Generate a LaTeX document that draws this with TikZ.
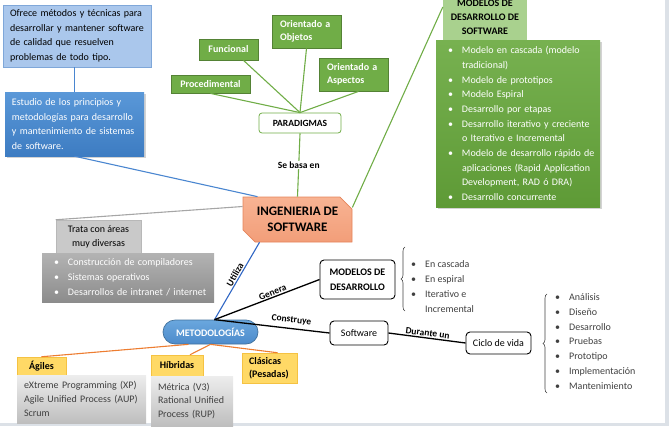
\documentclass[tikz,border=0pt]{standalone}
\usepackage{fontspec}
\setmainfont{Carlito}
\usetikzlibrary{positioning,shapes.misc,decorations.pathreplacing,shadows,calc}
\definecolor{bluepale}{HTML}{AAC7EC}
\definecolor{blueedge}{HTML}{7FA7D9}
\definecolor{bluetop}{HTML}{5A98D8}
\definecolor{bluebot}{HTML}{3D7CC2}
\definecolor{bluelink}{HTML}{4A86D0}
\definecolor{bluedark}{HTML}{2F66C4}
\definecolor{salmontop}{HTML}{F8B393}
\definecolor{salmonbot}{HTML}{F29E79}
\definecolor{salmonedge}{HTML}{E6845A}
\definecolor{leaf}{HTML}{70AD47}
\definecolor{leafdark}{HTML}{548235}
\definecolor{leafbot}{HTML}{5E9A36}
\definecolor{leafpale}{HTML}{A9D18E}
\definecolor{ashpale}{HTML}{C9C9C9}
\definecolor{ashedge}{HTML}{B8B8B8}
\definecolor{ashtop}{HTML}{B3B3B3}
\definecolor{ashbot}{HTML}{8C8C8C}
\definecolor{ashlink}{HTML}{A6A6A6}
\definecolor{fogtop}{HTML}{EDEDED}
\definecolor{fogbot}{HTML}{BEBEBE}
\definecolor{gold}{HTML}{FFD966}
\definecolor{goldedge}{HTML}{F5C242}
\definecolor{tang}{HTML}{ED7D31}
\definecolor{skytop}{HTML}{6AA7DE}
\definecolor{skybot}{HTML}{4D8BCB}
\definecolor{skyedge}{HTML}{41719C}
\definecolor{txtgray}{HTML}{404040}
\definecolor{frame}{HTML}{DCE1E7}
\newcommand{\bul}{\makebox[14pt][l]{\textbullet}}
\newcommand{\ind}{\hspace*{14pt}}
\tikzset{
  lmargin/.style={execute at begin node={\leftskip=#1\hyphenpenalty=10000}},
  note/.style={inner sep=0pt,align=left,lmargin=7pt,font=\fontsize{10}{14.5}\selectfont},
  paleblue/.style={note,fill=bluepale,draw=blueedge,line width=.6pt},
  deepblue/.style={note,top color=bluetop,bottom color=bluebot,text=white,
    drop shadow={opacity=.35,shadow xshift=1.5pt,shadow yshift=-1.5pt}},
  paradig/.style={draw=leafdark,fill=leaf,line width=.8pt,text=white,inner sep=0pt,
    align=left,font=\bfseries\fontsize{10}{12.5}\selectfont},
  parabox/.style={draw=leaf,fill=white,line width=.8pt,rounded corners=3pt,inner sep=0pt,
    font=\bfseries\fontsize{9.5}{12}\selectfont},
  core/.style={chamfered rectangle,chamfered rectangle corners={north east,south west},
    chamfered rectangle xsep=9pt,top color=salmontop,bottom color=salmonbot,draw=salmonedge,
    line width=.7pt,inner sep=0pt,align=center,font=\bfseries\fontsize{13}{16}\selectfont},
  mhead/.style={fill=leafpale,inner sep=0pt,align=center,font=\bfseries\fontsize{10}{14}\selectfont},
  mbody/.style={note,lmargin=12pt,top color=leaf!95!white,bottom color=leafbot,text=white,
    font=\fontsize{10}{14.7}\selectfont,
    drop shadow={opacity=.35,shadow xshift=1.5pt,shadow yshift=-1.5pt}},
  grayhead/.style={fill=ashpale,draw=ashedge,line width=.5pt,inner sep=0pt,align=center,
    font=\fontsize{10}{14}\selectfont},
  graybody/.style={note,lmargin=12pt,top color=ashtop,bottom color=ashbot,text=white,
    font=\fontsize{10}{15}\selectfont},
  metbox/.style={rounded corners=12pt,top color=skytop,bottom color=skybot,draw=skyedge,
    line width=.7pt,text=white,inner sep=0pt,font=\bfseries\fontsize{10}{12}\selectfont},
  roundbox/.style={draw=black,line width=.9pt,rounded corners=4pt,fill=white,inner sep=0pt,
    align=center,font=\fontsize{10}{15}\selectfont},
  plainlist/.style={inner sep=0pt,align=left,text=txtgray,font=\fontsize{10}{15}\selectfont},
  goldbox/.style={fill=gold,draw=goldedge,line width=.5pt,inner sep=0pt,align=left,
    font=\bfseries\fontsize{10}{13}\selectfont},
  listbox/.style={note,top color=fogtop,bottom color=fogbot,text=txtgray,
    font=\fontsize{10}{13.7}\selectfont},
  lbl/.style={inner sep=1pt,font=\bfseries\fontsize{9.5}{11}\selectfont},
  bluewire/.style={draw=bluelink,line width=1.1pt},
  greenwire/.style={draw=leaf,line width=1.1pt},
  graywire/.style={draw=ashlink,line width=1.1pt},
  blackwire/.style={draw=black,line width=1.3pt},
  orangewire/.style={draw=tang,line width=1.1pt},
  bracket/.style={draw=txtgray,line width=.6pt,decorate,decoration={brace,amplitude=4pt}},
}
\begin{document}
\begin{tikzpicture}[x=1pt,y=-1pt]
\clip (0,0) rectangle (669,426);
\fill[frame] (665,0) rectangle (669,426);
\fill[frame] (0,423) rectangle (669,426);

\node[paleblue,minimum width=148pt,minimum height=62pt,text width=148pt] (ofrece) at (77,36)
  {Ofrece métodos y técnicas para\\desarrollar y mantener software\\de calidad que resuelven\\problemas de todo tipo.};
\node[deepblue,minimum width=139pt,minimum height=64pt,text width=139pt] (estudio) at (74.5,124)
  {Estudio de los principios y\\metodologías para desarrollo\\y mantenimiento de sistemas\\de software.};

\node[paradig,minimum width=79pt,minimum height=18pt] (proc) at (210.5,84) {Procedimental};
\node[paradig,minimum width=59pt,minimum height=21pt] (func) at (228.5,49.5) {Funcional};
\node[paradig,lmargin=8pt,minimum width=69pt,minimum height=33pt,text width=69pt] (obj) at (306.5,31.5) {Orientado a\\Objetos};
\node[paradig,lmargin=8pt,minimum width=69pt,minimum height=33pt,text width=69pt] (asp) at (353.5,74.5) {Orientado a\\Aspectos};
\node[parabox,minimum width=82pt,minimum height=20pt] (para) at (300,123) {PARADIGMAS};

\node[core,minimum width=109pt,minimum height=45pt] (ing) at (297.5,219.5) {INGENIERIA DE\\SOFTWARE};

\node[mhead,minimum width=84pt,minimum height=46pt] (mhdr) at (485,17) {MODELOS DE\\DESARROLLO DE\\SOFTWARE};
\node[mbody,minimum width=164pt,minimum height=167pt,text width=164pt] (mlist) at (518,123.5)
  {\bul Modelo en cascada (modelo\\\ind tradicional)\\\bul Modelo de prototipos\\\bul Modelo Espiral\\
   \bul Desarrollo por etapas\\\bul Desarrollo iterativo y creciente\\\ind o Iterativo e Incremental\\
   \bul Modelo de desarrollo rápido de\\\ind aplicaciones (Rapid Application\\\ind Development, RAD ó DRA)\\
   \bul Desarrollo concurrente};

\node[grayhead,minimum width=85pt,minimum height=33pt] (trata) at (98.5,236.5) {Trata con áreas\\muy diversas};
\node[graybody,minimum width=172pt,minimum height=49pt,text width=172pt] (areas) at (128,277.5)
  {\bul Construcción de compiladores\\\bul Sistemas operativos\\\bul Desarrollos de intranet / internet};

\node[metbox,minimum width=95pt,minimum height=24pt] (met) at (210.5,332) {METODOLOGÍAS};
\coordinate (hub) at ([xshift=4pt]met.north);

\node[roundbox,font=\bfseries\fontsize{10}{15}\selectfont,minimum width=75pt,minimum height=39pt] (modd) at (357.5,279.5) {MODELOS DE\\DESARROLLO};
\node[roundbox,minimum width=58pt,minimum height=24pt] (soft) at (359,333) {Software};
\node[roundbox,minimum width=65pt,minimum height=22pt] (ciclo) at (498.5,343) {Ciclo de vida};

\node[plainlist,anchor=west] (tipos) at (411,286.5)
  {\bul En cascada\\\bul En espiral\\\bul Iterativo e\\\ind Incremental};
\node[plainlist,anchor=west,font=\fontsize{10}{14.8}\selectfont] (fases) at (555,341.5)
  {\bul Análisis\\\bul Diseño\\\bul Desarrollo\\\bul Pruebas\\\bul Prototipo\\\bul Implementación\\\bul Mantenimiento};
\draw[bracket] (405,311) -- (405,247);
\draw[bracket] (547,393) -- (547,294);

\node[goldbox,minimum width=49pt,minimum height=18pt] (agi) at (41.5,366) {Ágiles};
\node[listbox,minimum width=129pt,minimum height=48pt,text width=129pt] (agil) at (81.5,399)
  {eXtreme Programming (XP)\\Agile Unified Process (AUP)\\Scrum};
\node[goldbox,minimum width=52pt,minimum height=21pt] (hib) at (177,365.5) {Híbridas};
\node[listbox,minimum width=82pt,minimum height=50pt,text width=82pt] (hibl) at (192,401)
  {Métrica (V3)\\Rational Unified\\Process (RUP)};
\node[goldbox,lmargin=7pt,minimum width=55pt,minimum height=30pt,text width=55pt] (cla) at (269.5,368) {Clásicas\\(Pesadas)};

\draw[bluewire] (estudio.north |- ofrece.south) -- (estudio.north);
\draw[bluewire] (estudio.south) -- ([xshift=-40pt]ing.north);
\draw[graywire] ([yshift=13pt]ing.west) -- (trata.north west);
\draw[greenwire] (para.south) -- node[lbl,fill=white] {Se basa en} (ing.north);
\draw[greenwire] (proc.south) -- (para.north);
\draw[greenwire] ([xshift=15pt]func.south) -- (para.north);
\draw[greenwire] (obj.south) -- (para.north);
\draw[greenwire] ([xshift=5pt]asp.south) -- (para.north);
\draw[greenwire] ([yshift=12pt]ing.east) -- ([yshift=10pt]mhdr.west);
\draw[bluewire,draw=bluedark] (hub) -- node[lbl,sloped,above,pos=.55] {Utiliza} ([xshift=-38pt]ing.south);
\draw[blackwire] (hub) -- node[lbl,sloped,above,pos=.57] {Genera} (modd.west);
\draw[blackwire] (hub) -- node[lbl,sloped,above=3pt,pos=.66] {Construye} (soft.west);
\draw[blackwire] (soft.east) -- node[lbl,sloped,above,pos=.5] {Durante un} (ciclo.west);
\draw[orangewire] ([xshift=-22pt]met.south) -- (agi.north);
\draw[orangewire] (met.south) -- ([xshift=13pt]hib.north);
\draw[orangewire] (met.south) -- ([xshift=8pt]cla.north);
\end{tikzpicture}
\end{document}
